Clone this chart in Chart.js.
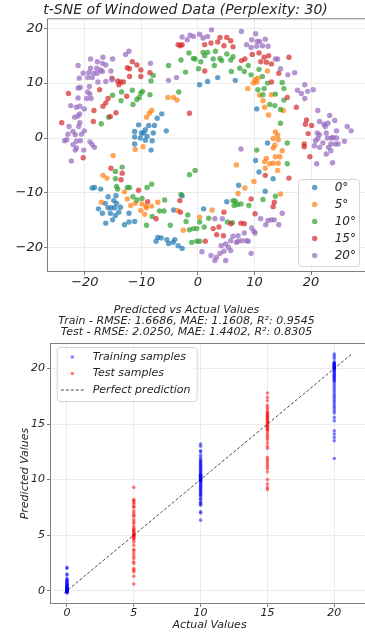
<html>

<head>
    <meta charset="utf-8">
    <title>t-SNE / Predicted vs Actual</title>
    <script src="https://cdn.jsdelivr.net/npm/chart.js@4.4.1/dist/chart.umd.min.js"></script>
    <style>
        body {
            margin: 0;
            background: #fff;
            overflow: hidden;
        }

        .box {
            position: absolute;
            left: 0;
        }

        canvas {
            display: block;
        }
    </style>
</head>

<body>
    <div class="box" style="top:0px"><canvas id="tsneChart" width="371" height="295"></canvas></div>
    <div class="box" style="top:295px"><canvas id="predChart" width="373" height="338"></canvas></div>

    <script>
        // ---- t-SNE embedding, one list of [x, y] per angle ----
        var classLabels = ['0°', '5°', '10°', '15°', '20°'];

        var tsne0 = [
            [-6.4, 4.4], [-7.2, 3.6], [-7.7, 2.3], [-8.7, 2.3], [-9.3, 1.5], [-10.5, 2.4], [-9.6, 0.9], [-11.2, 1.2],
            [-11.2, 0.2], [-10.2, 0.0], [-9.0, 0.3], [-7.9, 0.9], [-5.6, 1.3], [-8.1, -0.5], [-11.2, -1.1], [-9.3, -0.4],
            [-10.0, 0.9], [-8.3, -2.2], [0.3, 9.7], [1.7, 10.3], [3.5, 11.0], [6.6, 10.5], [10.4, 5.3], [12.3, -0.9],
            [-18.7, -9.1], [-18.3, -9.0], [-17.2, -9.3], [-15.9, -10.7], [-14.5, -10.5], [-14.9, -11.4], [-14.4, -11.9],
            [-16.4, -11.9], [-15.9, -12.7], [-15.3, -12.7], [-14.7, -12.7], [-13.7, -12.6], [-17.6, -12.9], [-16.9, -13.7],
            [-15.5, -13.7], [-14.6, -14.1], [-14.0, -13.5], [-12.2, -13.7], [-15.1, -14.9], [-16.3, -15.5], [-13.0, -15.8],
            [-12.2, -15.3], [-11.2, -15.2], [-4.3, -13.1], [-2.8, -10.5], [1.0, -12.9], [-7.1, -18.1], [-6.5, -18.2],
            [-7.4, -18.8], [-5.5, -18.5], [-5.2, -19.2], [-4.4, -19.0], [-4.1, -18.5], [-3.5, -19.6], [-2.8, -20.1],
            [10.2, -4.1], [10.8, -6.2], [13.3, -7.4], [7.2, -8.6], [11.9, -9.7], [5.1, -11.6]
        ];

        var tsne5 = [
            [-5.3, 7.4], [-4.3, 7.4], [-3.7, 6.9], [-9.1, 3.8], [-8.6, 4.5], [-8.2, 5.0], [-11.1, -2.1], [-9.7, -1.6],
            [12.3, 12.2], [10.6, 10.9], [10.1, 10.6], [9.8, 10.0], [10.4, 10.2], [8.8, 9.0], [10.9, 7.8], [11.5, 6.8],
            [13.0, 7.9], [11.8, 5.6], [15.1, 5.0], [12.5, 4.2], [13.7, 1.1], [13.3, -0.1], [14.1, 0.5], [14.2, -0.3],
            [13.6, -1.3], [6.8, -4.9], [12.1, -3.7], [11.8, -4.3], [11.9, -5.5], [12.7, -4.7], [13.3, -4.6], [13.7, -3.4],
            [14.5, -3.4], [14.2, -4.6], [14.1, -5.9], [8.3, -9.1], [7.1, -10.1], [9.9, -7.9], [14.6, -10.2], [2.5, -13.1],
            [13.3, -1.8], [14.9, -2.3], [-15.0, -3.2], [-16.8, -6.8], [-16.1, -7.3], [-13.0, -9.8], [-12.5, -11.1],
            [-17.1, -11.7], [-11.9, -12.3], [-11.1, -11.9], [-9.9, -12.0], [-9.1, -12.7], [-9.2, -12.4], [-8.2, -12.4],
            [-7.1, -11.7], [-10.1, -13.2], [-9.4, -13.9], [-3.6, -13.2], [-2.6, -16.8], [0.3, -14.4]
        ];

        var tsne10 = [
            [-15.1, 7.8], [-13.5, 8.4], [-13.6, 6.8], [-11.6, 8.7], [-11.5, 6.1], [-10.8, 7.0], [-10.4, 7.4], [-10.1, 8.2],
            [-9.8, 8.5], [-8.5, 7.9], [-8.3, 10.4], [-7.9, 11.4], [-15.8, 3.8], [-17.1, 2.6], [-5.2, 13.2], [-3.4, 8.4],
            [-3.0, 14.2], [-2.2, 12.0], [-1.6, 15.5], [-0.8, 14.5], [-0.5, 14.4], [0.5, 13.9], [0.9, 15.6], [1.2, 15.0],
            [0.1, 12.6], [1.7, 15.6], [3.1, 15.8], [2.7, 14.4], [3.9, 14.5], [4.2, 14.1], [2.9, 13.2], [5.1, 15.3],
            [5.8, 14.2], [6.2, 14.8], [5.9, 12.1], [7.4, 12.7], [8.2, 12.1], [8.9, 13.2], [9.4, 11.5], [10.8, 12.5],
            [11.4, 11.2], [12.3, 10.0], [10.6, 8.8], [11.7, 9.0], [11.5, 7.9], [13.7, 8.0], [14.9, 10.1], [15.2, 9.0],
            [15.2, 6.9], [12.7, 6.1], [13.6, 5.9], [14.6, 5.2], [14.6, 2.7], [15.8, -0.9], [-14.6, -6.1], [-13.4, -5.3],
            [-14.6, -7.4], [-14.4, -8.8], [-14.2, -9.3], [-12.5, -9.0], [-12.1, -9.0], [-11.5, -10.7], [-10.8, -11.3],
            [-9.9, -11.0], [-9.0, -9.0], [-8.2, -8.4], [-5.9, -11.3], [-6.8, -13.3], [-6.0, -13.3], [-8.1, -14.3],
            [-9.1, -15.9], [-4.9, -15.9], [-3.0, -10.3], [-1.5, -6.7], [-0.5, -5.9], [-1.8, -14.0], [-2.1, -15.2],
            [0.3, -15.3], [-1.5, -16.7], [-0.8, -16.5], [-0.2, -16.5], [1.1, -16.2], [-1.1, -19.0], [-0.2, -18.8],
            [0.3, -18.8], [10.4, -2.2], [15.8, -4.7], [6.2, -11.4], [6.6, -11.5], [7.0, -12.1], [6.4, -12.3],
            [7.6, -12.0], [9.0, -12.3], [11.5, -11.2], [13.7, -10.6], [1.9, -14.6], [5.2, -15.3], [6.1, -15.4]
        ];

        var tsne15 = [
            [-22.9, 8.1], [-24.1, 2.8], [-17.4, 8.8], [-18.4, 5.0], [-18.5, 3.0], [-15.5, 3.9], [-14.5, 4.6], [-16.8, 5.8],
            [-16.3, 6.4], [-15.9, 7.2], [-15.2, 10.9], [-14.2, 10.4], [-13.7, 10.2], [-13.2, 10.2], [-14.0, 9.7],
            [-12.6, 7.6], [-12.1, 11.2], [-12.5, 12.8], [-12.1, 12.6], [-11.6, 13.9], [-10.8, 13.3], [-10.1, 12.4],
            [-10.1, 11.2], [-8.5, 11.9], [-3.5, 17.0], [-3.1, 16.8], [-2.8, 17.0], [-1.5, 4.5], [1.2, 17.0], [2.3, 17.3],
            [3.5, 17.5], [3.9, 18.3], [5.1, 18.3], [5.8, 17.7], [4.6, 16.8], [6.2, 16.6], [1.2, 12.2], [7.7, 14.1],
            [8.3, 14.4], [9.6, 15.2], [10.8, 15.5], [11.7, 14.7], [12.5, 15.0], [11.1, 13.9], [12.1, 13.8], [13.0, 13.5],
            [16.1, 14.7], [14.3, 11.8], [13.0, 10.2], [15.8, 7.4], [17.4, 5.6], [19.2, 3.3], [19.0, 2.5], [20.1, 2.3],
            [19.5, 0.8], [18.8, -1.1], [-20.3, -3.6], [-15.4, -5.5], [-13.4, -6.4], [-13.6, -7.6], [-10.5, -9.5],
            [-8.9, -11.6], [-7.4, -14.7], [-3.2, -11.4], [-3.1, -13.5], [1.3, -18.8], [2.7, -16.5], [3.7, -16.2],
            [4.6, -13.5], [4.5, -17.8], [3.3, -17.6], [5.8, -15.6], [7.6, -15.5], [8.2, -15.6], [10.1, -13.8],
            [9.4, -11.1], [13.5, -11.7], [13.3, -12.5], [11.9, -6.8], [16.1, -7.3], [19.8, -3.4], [18.8, -1.6]
        ];

        var tsne20 = [
            [-21.2, 13.2], [-19.0, 14.4], [-17.8, 13.9], [-16.8, 14.7], [-15.1, 14.4], [-16.9, 13.6], [-16.3, 13.3],
            [-19.0, 12.7], [-17.9, 12.7], [-17.2, 12.4], [-15.4, 12.2], [-20.3, 11.8], [-19.3, 11.9], [-18.4, 11.8],
            [-17.8, 11.8], [-16.9, 12.1], [-21.0, 10.9], [-19.5, 11.0], [-18.7, 11.0], [-17.7, 10.2], [-16.3, 10.3],
            [-15.2, 10.6], [-20.8, 9.2], [-21.2, 9.1], [-19.2, 9.4], [-19.5, 8.4], [-19.1, 8.0], [-18.9, 7.2],
            [-19.7, 7.2], [-21.2, 7.3], [-22.5, 5.9], [-21.5, 5.6], [-20.9, 5.8], [-20.1, 5.3], [-21.8, 3.8],
            [-21.2, 4.0], [-20.9, 4.4], [-20.9, 2.8], [-21.1, 2.1], [-22.1, 1.2], [-22.8, 2.1], [-23.0, 0.7],
            [-21.7, 0.6], [-20.6, 0.7], [-20.1, 1.3], [-23.2, -0.3], [-23.6, -0.5], [-20.8, -0.5], [-21.5, -0.6],
            [-19.1, -0.7], [-22.1, -1.2], [-18.7, -1.2], [-12.2, 15.8], [-12.8, 15.2], [-8.4, 13.6], [-2.8, 18.4],
            [-1.4, 18.7], [-0.8, 18.5], [-1.9, 17.9], [0.3, 18.9], [0.9, 18.2], [-5.2, 10.5], [-3.8, 11.0],
            [-21.5, -1.8], [-21.7, -2.2], [-20.2, -2.2], [-18.3, -1.7], [-22.4, -4.2], [0.7, -20.7],
            [1.7, 18.5], [2.4, 19.7], [7.7, 19.4], [10.2, 19.0], [9.5, 17.9], [10.5, 17.6], [10.9, 17.6], [11.9, 18.0],
            [8.6, 17.0], [9.4, 16.5], [10.4, 16.7], [11.4, 16.8], [12.4, 16.7], [13.7, 14.4], [14.1, 14.4], [14.6, 12.6],
            [15.9, 11.5], [17.1, 11.9], [18.9, 9.7], [17.6, 8.7], [18.3, 8.1], [19.4, 8.5], [20.4, 8.8], [18.9, 7.2],
            [21.2, 5.0], [23.3, 4.1], [21.5, 3.0], [22.3, 2.5], [22.5, 2.1], [23.0, 2.7], [24.2, 3.2], [26.4, 2.1],
            [27.1, 1.3], [24.5, 1.3], [21.1, 0.9], [21.5, 0.6], [22.7, 0.9], [23.6, 0.0], [23.9, 0.1], [24.5, 0.0],
            [22.9, 0.0], [20.8, -0.5], [22.1, -0.9], [21.2, -0.1], [25.9, -0.6], [23.5, -1.1], [24.8, -1.1],
            [7.6, -2.0], [20.6, -1.4], [21.5, -1.7], [23.1, -1.7], [24.3, -1.1], [23.5, -2.3], [22.7, -2.9],
            [21.0, -4.7], [23.8, -4.5], [14.9, -13.7], [11.1, -14.7], [12.4, -15.0], [12.0, -15.8], [13.0, -14.9],
            [13.5, -14.9], [14.3, -15.8], [9.5, -16.4], [9.9, -17.0], [10.1, -17.3], [8.2, -17.3], [7.1, -17.8],
            [6.2, -17.9], [5.8, -18.7], [6.8, -19.0], [7.1, -18.8], [7.8, -18.7], [8.6, -18.7], [8.9, -18.8],
            [4.1, -19.6], [4.9, -19.3], [5.4, -19.9], [5.8, -20.5], [4.6, -20.6], [3.3, -21.7], [3.9, -21.0],
            [2.3, -21.4], [3.0, -22.3], [4.9, -22.3], [9.4, -21.0], [4.3, -14.7], [3.0, -14.7]
        ];

        var tsneTicks = [-20, -10, 0, 10, 20];

        // ---- predicted vs actual ----
        var trainActual = [0, 10, 20];
        var testActual = [5, 15];

        var trainPred0 = [2.1, 2.0, 1.5, 1.4, 1.1, 1.0, 0.9, 0.85, 0.75, 0.7, 0.6, 0.55, 0.5, 0.45, 0.4, 0.35, 0.3,
            0.25, 0.2, 0.18, 0.15, 0.12, 0.1, 0.08, 0.05, 0.03, 0.02, 0.0, 0.0, -0.02, -0.05, -0.08, -0.1, -0.12, -0.15, -0.2];
        var trainPred10 = [13.2, 13.0, 12.6, 12.5, 12.2, 12.0, 11.8, 11.7, 11.6, 11.5, 11.4, 11.3, 11.2, 11.1, 11.0,
            10.9, 10.8, 10.7, 10.6, 10.5, 10.45, 10.4, 10.35, 10.3, 10.25, 10.2, 10.15, 10.1, 10.05, 10.0, 9.95, 9.9,
            9.85, 9.8, 9.7, 9.6, 9.5, 9.4, 9.3, 9.2, 9.1, 9.0, 8.9, 8.8, 8.7, 8.6, 8.5, 8.3, 8.2, 8.0, 7.9, 7.8, 7.7,
            7.1, 7.0, 6.35];
        var trainPred20 = [21.3, 21.1, 20.9, 20.6, 20.5, 20.45, 20.4, 20.35, 20.3, 20.25, 20.2, 20.15, 20.1, 20.05,
            20.0, 19.95, 19.9, 19.8, 19.7, 19.6, 19.5, 19.4, 19.3, 19.2, 19.1, 19.0, 18.9, 18.8, 18.6, 18.4, 18.2,
            18.0, 17.8, 17.6, 17.4, 17.2, 17.0, 16.8, 16.6, 16.4, 16.2, 16.0, 15.6, 15.3, 14.4, 14.1, 13.8, 13.5, 11.9];
        var testPred5 = [9.3, 8.2, 8.1, 7.95, 7.8, 7.6, 7.5, 7.2, 7.0, 6.8, 6.7, 6.4, 6.2, 6.05, 5.8, 5.6, 5.5, 5.4,
            5.3, 5.2, 5.1, 5.0, 4.95, 4.9, 4.8, 4.7, 4.6, 4.4, 4.1, 3.7, 3.6, 3.35, 3.1, 2.9, 2.6, 2.45, 2.0, 1.85,
            1.7, 1.3, 0.6];
        var testPred15 = [17.8, 17.4, 17.1, 16.7, 16.5, 16.3, 16.1, 16.0, 15.9, 15.8, 15.7, 15.6, 15.5, 15.4, 15.3,
            15.2, 15.1, 15.0, 14.9, 14.8, 14.7, 14.6, 14.5, 14.4, 14.2, 14.0, 13.8, 13.6, 13.3, 13.0, 12.8, 12.0,
            11.8, 11.6, 11.4, 11.2, 11.0, 10.7, 10.0, 9.6, 9.3, 9.1];

        var perfectRange = [-0.2, 21.3];
        var predTicks = [0, 5, 10, 15, 20];

        // ---- shared look ----
        Chart.defaults.font.family = "'DejaVu Sans', sans-serif";
        Chart.defaults.font.style = 'italic';
        Chart.defaults.font.weight = 'normal';
        Chart.defaults.color = '#262626';

        var GRID = '#ebebeb';
        var SPINE = '#808080';
        var TAB = ['rgba(31,119,180,0.7)', 'rgba(255,127,14,0.7)', 'rgba(44,160,44,0.7)',
            'rgba(214,39,40,0.7)', 'rgba(148,103,189,0.7)'];

        function fixedTicks(values) {
            return function (scale) {
                scale.ticks = values.map(function (v) { return { value: v }; });
            };
        }

        function minusSign(v) {
            return String(v).replace('-', '\u2212');
        }

        function toPoints(pairs) {
            return pairs.map(function (p) { return { x: p[0], y: p[1] }; });
        }

        function column(x, values) {
            return values.map(function (v) { return { x: x, y: v }; });
        }

        function boxPath(ctx, x, y, w, h, r) {
            ctx.beginPath();
            if (ctx.roundRect) ctx.roundRect(x, y, w, h, r);
            else ctx.rect(x, y, w, h);
        }

        var framePlugin = {
            id: 'frame',
            afterDatasetsDraw: function (chart) {
                var ctx = chart.ctx, a = chart.chartArea;
                ctx.save();
                ctx.strokeStyle = SPINE;
                ctx.lineWidth = 1;
                ctx.strokeRect(a.left + 0.5, a.top + 0.5, a.right - a.left - 1, a.bottom - a.top - 1);
                ctx.restore();
            }
        };

        // legend drawn inside the plot, matplotlib style
        function boxLegend(id, place) {
            return {
                id: id,
                afterDatasetsDraw: function (chart) {
                    var ctx = chart.ctx;
                    var p = place(chart.chartArea);
                    ctx.save();
                    boxPath(ctx, p.x + 0.5, p.y + 0.5, p.w, p.h, 3);
                    ctx.fillStyle = 'rgba(255,255,255,0.8)';
                    ctx.fill();
                    ctx.strokeStyle = '#d6d6d6';
                    ctx.lineWidth = 1;
                    ctx.stroke();
                    ctx.font = 'italic ' + p.size + 'px "DejaVu Sans"';
                    ctx.textBaseline = 'middle';
                    chart.data.datasets.forEach(function (ds, i) {
                        var cy = p.y + p.first + i * p.step;
                        if (ds.type === 'line') {
                            ctx.strokeStyle = ds.borderColor;
                            ctx.lineWidth = ds.borderWidth;
                            ctx.setLineDash(ds.borderDash);
                            ctx.beginPath();
                            ctx.moveTo(p.x + p.mark - 11.5, cy);
                            ctx.lineTo(p.x + p.mark + 11.5, cy);
                            ctx.stroke();
                            ctx.setLineDash([]);
                        } else {
                            ctx.fillStyle = ds.backgroundColor;
                            ctx.beginPath();
                            ctx.arc(p.x + p.mark, cy, ds.pointRadius, 0, Math.PI * 2);
                            ctx.fill();
                        }
                        ctx.fillStyle = '#262626';
                        ctx.fillText(ds.label, p.x + p.text, cy);
                    });
                    ctx.restore();
                }
            };
        }

        // ---- top chart ----
        var tsneSets = [tsne0, tsne5, tsne10, tsne15, tsne20].map(function (pairs, i) {
            return {
                label: classLabels[i],
                data: toPoints(pairs),
                backgroundColor: TAB[i],
                borderWidth: 0,
                pointRadius: 2.7,
                order: 4 - i
            };
        });

        new Chart(document.getElementById('tsneChart'), {
            type: 'scatter',
            data: { datasets: tsneSets },
            options: {
                responsive: false,
                animation: false,
                layout: { padding: 0 },
                plugins: {
                    legend: { display: false },
                    tooltip: { enabled: false },
                    title: {
                        display: true,
                        text: 't-SNE of Windowed Data (Perplexity: 30)',
                        font: { size: 14, style: 'italic', weight: 'normal' },
                        color: '#262626',
                        padding: { top: 1.5, bottom: 0 }
                    }
                },
                scales: {
                    x: {
                        type: 'linear', min: -26.7, max: 29.9,
                        afterBuildTicks: fixedTicks(tsneTicks),
                        afterFit: function (s) { s.height = 23; },
                        grid: { color: GRID, tickColor: SPINE, tickLength: 3 },
                        border: { display: false },
                        ticks: { font: { size: 13 }, padding: 0, maxRotation: 0, callback: minusSign }
                    },
                    y: {
                        type: 'linear', min: -24.4, max: 21.8,
                        afterBuildTicks: fixedTicks(tsneTicks),
                        afterFit: function (s) { s.width = 47; },
                        grid: { color: GRID, tickColor: SPINE, tickLength: 3 },
                        border: { display: false },
                        ticks: { font: { size: 13 }, padding: 1, callback: minusSign }
                    }
                }
            },
            plugins: [framePlugin, boxLegend('tsneLegend', function (a) {
                return { x: a.right - 69, y: a.bottom - 93, w: 61, h: 87, first: 8.5, step: 17, mark: 16.7, text: 36.7, size: 12 };
            })]
        });

        // ---- bottom chart ----
        var trainPoints = column(trainActual[0], trainPred0)
            .concat(column(trainActual[1], trainPred10))
            .concat(column(trainActual[2], trainPred20));
        var testPoints = column(testActual[0], testPred5).concat(column(testActual[1], testPred15));

        new Chart(document.getElementById('predChart'), {
            type: 'scatter',
            data: {
                datasets: [
                    {
                        label: 'Training samples',
                        data: trainPoints,
                        backgroundColor: 'rgba(0,0,255,0.5)',
                        borderWidth: 0,
                        pointRadius: 1.8,
                        order: 2
                    },
                    {
                        label: 'Test samples',
                        data: testPoints,
                        backgroundColor: 'rgba(255,0,0,0.5)',
                        borderWidth: 0,
                        pointRadius: 1.8,
                        order: 1
                    },
                    {
                        type: 'line',
                        label: 'Perfect prediction',
                        data: [{ x: perfectRange[0], y: perfectRange[0] }, { x: perfectRange[1], y: perfectRange[1] }],
                        borderColor: 'rgba(0,0,0,0.8)',
                        borderWidth: 0.9,
                        borderDash: [3, 2],
                        pointRadius: 0,
                        fill: false,
                        order: 0
                    }
                ]
            },
            options: {
                responsive: false,
                animation: false,
                layout: { padding: 0 },
                plugins: {
                    legend: { display: false },
                    tooltip: { enabled: false },
                    title: {
                        display: true,
                        text: ['Predicted vs Actual Values',
                            'Train - RMSE: 1.6686, MAE: 1.1608, R²: 0.9545',
                            'Test - RMSE: 2.0250, MAE: 1.4402, R²: 0.8305'],
                        font: { size: 11, style: 'italic', weight: 'normal', lineHeight: 1.0 },
                        color: '#262626',
                        padding: { top: 9.5, bottom: 5.5 }
                    }
                },
                scales: {
                    x: {
                        type: 'linear', min: -1.27, max: 22.6,
                        afterBuildTicks: fixedTicks(predTicks),
                        afterFit: function (s) { s.height = 29; },
                        grid: { color: GRID, tickColor: SPINE, tickLength: 3 },
                        border: { display: false },
                        ticks: { font: { size: 11 }, padding: 0, maxRotation: 0 },
                        title: { display: true, text: 'Actual Values', font: { size: 11 }, padding: { top: 0, bottom: 1.5 } }
                    },
                    y: {
                        type: 'linear', min: -1.2, max: 22.3,
                        afterBuildTicks: fixedTicks(predTicks),
                        afterFit: function (s) { s.width = 50; },
                        grid: { color: GRID, tickColor: SPINE, tickLength: 3 },
                        border: { display: false },
                        ticks: { font: { size: 11 }, padding: 2 },
                        title: { display: true, text: 'Predicted Values', font: { size: 11 }, padding: { top: 18.4, bottom: 0 } }
                    }
                }
            },
            plugins: [framePlugin, boxLegend('predLegend', function (a) {
                return { x: a.left + 6.7, y: a.top + 4, w: 140, h: 54, first: 10, step: 16.5, mark: 15.6, text: 36, size: 11 };
            })]
        });
    </script>
</body>

</html>
